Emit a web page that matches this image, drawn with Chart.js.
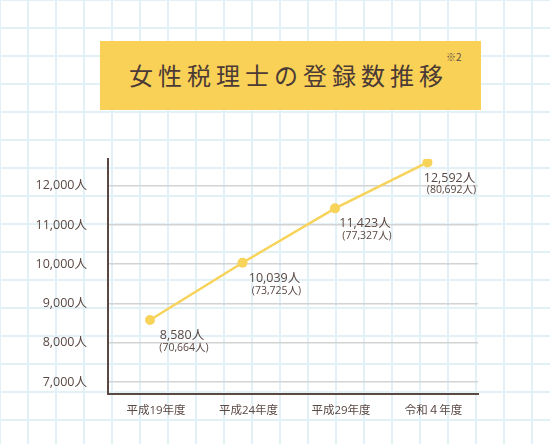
<!DOCTYPE html>
<html lang="ja">
<head>
    <meta charset="UTF-8">
    <title>女性税理士の登録数推移</title>
    <script src="https://cdn.jsdelivr.net/npm/chart.js"></script>
    <style>
        html, body {
            margin: 0;
            padding: 0;
            width: 550px;
            height: 444px;
            overflow: hidden;
        }
        body {
            position: relative;
            background-color: #fff;
            background-image:
                linear-gradient(to right, #e2f1f5 2px, transparent 2px),
                linear-gradient(to bottom, #e2f1f5 2px, transparent 2px);
            background-size: 28px 28px;
            background-position: -1px -1px;
            font-family: "Noto Sans CJK JP", "Noto Sans", sans-serif;
        }
        .title-box {
            position: absolute;
            left: 100px;
            top: 41px;
            width: 381px;
            height: 69px;
            background: #f9d157;
        }
        .title-box h1 {
            position: absolute;
            left: 29px;
            top: 19px;
            margin: 0;
            font-size: 24px;
            line-height: 30px;
            font-weight: 400;
            letter-spacing: 5px;
            color: #4b3a35;
            white-space: nowrap;
        }
        .title-box sup {
            position: absolute;
            left: 346px;
            top: 10px;
            font-size: 10px;
            line-height: 12px;
            color: #5e4d46;
        }
        #chartWrap {
            position: absolute;
            left: 0;
            top: 0;
            width: 550px;
            height: 444px;
        }
    </style>
</head>
<body>
    <div class="title-box">
        <h1>女性税理士の登録数推移</h1>
        <sup>※2</sup>
    </div>
    <div id="chartWrap">
        <canvas id="womenChart"></canvas>
    </div>

    <script>
        // data
        const years = ["平成19年度", "平成24年度", "平成29年度", "令和４年度"];
        const womenCount = [8580, 10039, 11423, 12592];
        const allCount = [70664, 73725, 77327, 80692];
        const yTicks = [7000, 8000, 9000, 10000, 11000, 12000];

        const brown = "#5a4843";
        const yellow = "#f8d35a";
        const numFont = "'Open Sans', 'Noto Sans CJK JP', sans-serif";

        const fmt = v => v.toLocaleString("en-US");

        // draws "8,580人 / (70,664人)" under each point
        const pointLabels = {
            id: "pointLabels",
            afterDatasetsDraw(chart, args, opts) {
                const ctx = chart.ctx;
                const meta = chart.getDatasetMeta(0);
                ctx.save();
                ctx.fillStyle = brown;
                ctx.textAlign = "center";
                ctx.textBaseline = "middle";
                meta.data.forEach((pt, i) => {
                    const cx = pt.x + opts.dx[i];
                    ctx.font = "12.5px " + numFont;
                    ctx.fillText(fmt(womenCount[i]) + "人", cx, pt.y + 15.5);
                    ctx.font = "10.5px " + numFont;
                    ctx.fillText("(" + fmt(allCount[i]) + "人)", cx + 2, pt.y + 28);
                });
                ctx.restore();
            }
        };

        const ctx = document.getElementById('womenChart').getContext('2d');

        new Chart(ctx, {
            type: 'line',
            data: {
                datasets: [{
                    data: womenCount.map((v, i) => ({ x: i, y: v })),
                    borderColor: yellow,
                    backgroundColor: yellow,
                    borderWidth: 2.5,
                    tension: 0,
                    pointRadius: 5,
                    pointHoverRadius: 5,
                    pointBorderWidth: 0,
                    pointBackgroundColor: yellow
                }]
            },
            options: {
                responsive: true,
                maintainAspectRatio: false,
                animation: false,
                layout: {
                    padding: { top: 159, right: 72, left: 0, bottom: 0 }
                },
                plugins: {
                    legend: { display: false },
                    tooltip: { enabled: false },
                    pointLabels: { dx: [32, 32, 30, 22] }
                },
                scales: {
                    x: {
                        type: 'linear',
                        min: -0.454,
                        max: 3.546,
                        afterBuildTicks: scale => {
                            scale.ticks = years.map((_, i) => ({ value: i }));
                        },
                        afterFit: scale => { scale.height = 50; },
                        grid: { display: false, drawTicks: false },
                        border: { display: true, color: brown, width: 2 },
                        ticks: {
                            callback: v => years[v],
                            color: brown,
                            font: { size: 11.5, family: numFont },
                            padding: 10,
                            labelOffset: 6,
                            maxRotation: 0
                        }
                    },
                    y: {
                        min: 6695,
                        max: 12680,
                        afterBuildTicks: scale => {
                            scale.ticks = yTicks.map(v => ({ value: v }));
                        },
                        afterFit: scale => { scale.width = 108; },
                        grid: { color: "#d3d3d3", lineWidth: 1.5, drawTicks: false },
                        border: { display: true, color: brown, width: 2 },
                        ticks: {
                            callback: v => fmt(v) + "人",
                            color: brown,
                            font: { size: 12.5, family: numFont },
                            padding: 21
                        }
                    }
                }
            },
            plugins: [pointLabels]
        });
    </script>
</body>
</html>
